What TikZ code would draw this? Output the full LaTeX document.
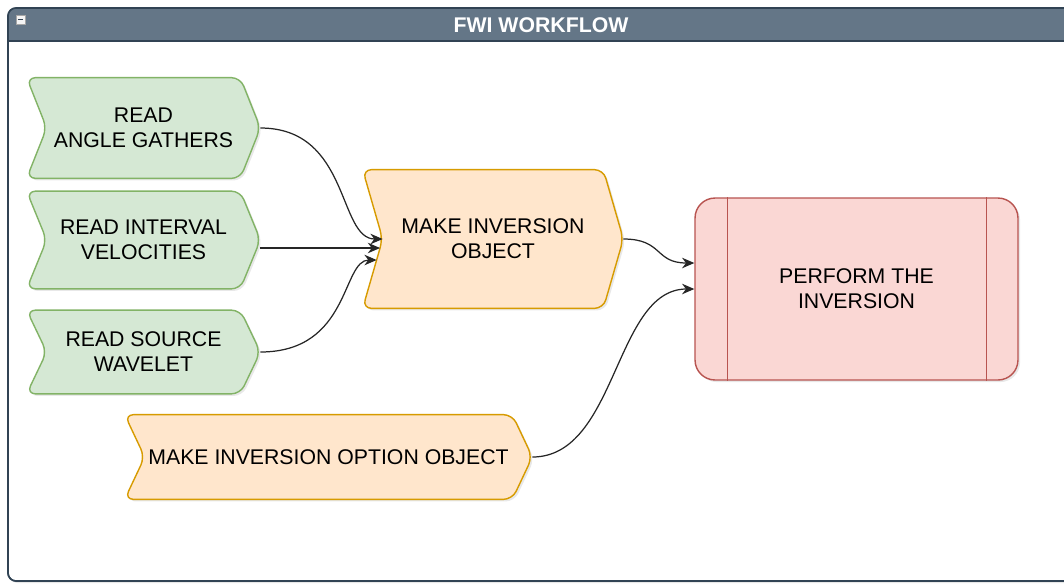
\documentclass[tikz,border=0pt]{standalone}
\usepackage{fontspec}
\setmainfont{Liberation Sans}
\usepackage{tikz}
\usetikzlibrary{arrows.meta, calc, backgrounds, shadows}
\definecolor{GreenFill}{HTML}{D5E8D4}
\definecolor{GreenLine}{HTML}{82B366}
\definecolor{OrangeFill}{HTML}{FFE6CC}
\definecolor{OrangeLine}{HTML}{D79B00}
\definecolor{RedFill}{HTML}{FAD7D4}
\definecolor{RedLine}{HTML}{B85450}
\definecolor{SlateFill}{HTML}{647687}
\definecolor{SlateLine}{HTML}{314354}

% chevron outline behind a text node
\newcommand{\chevpath}[2]{%
  \path[#2] (#1.north west) -- ([xshift=-0.4cm]#1.north east) -- (#1.east)
    -- ([xshift=-0.4cm]#1.south east) -- (#1.south west)
    -- ([xshift=0.4cm]#1.west) -- cycle;}

\begin{document}
\begin{tikzpicture}[
  x=0.02cm, y=-0.02cm,
  font=\fontsize{12.1}{14.2}\selectfont,
  softshadow/.style={drop shadow={opacity=0.18, shadow xshift=1.2pt,
                     shadow yshift=-1.2pt}},
  steptext/.style={rectangle, align=center, inner sep=0pt,
                   minimum width=4.66cm},
  greenstep/.style={fill=GreenFill, draw=GreenLine, line width=0.8pt,
                    rounded corners=5pt, softshadow},
  orangestep/.style={fill=OrangeFill, draw=OrangeLine, line width=0.8pt,
                     rounded corners=5pt, softshadow},
  procbox/.style={rectangle, rounded corners=0.4cm, fill=RedFill,
                  draw=RedLine, line width=0.8pt, align=center,
                  minimum width=6.46cm, minimum height=3.64cm, softshadow},
  conn/.style={-{Stealth[length=7pt, width=6pt]}, line width=0.7pt, black!85},
]
\useasboundingbox (0,0) rectangle (1064,583);

% Title
\node[font=\fontsize{12.1}{14.2}\selectfont\bfseries, text=white] (title)
  at (541,25) {FWI WORKFLOW};

% Read steps
\node[steptext, minimum height=2cm] (ra) at (143.5,128) {READ\\ANGLE GATHERS};
\node[steptext, minimum height=1.94cm] (rv) at (143.5,240) {READ INTERVAL\\VELOCITIES};
\node[steptext, minimum height=1.66cm] (rs) at (143.5,352) {READ SOURCE\\WAVELET};

% Make steps
\node[steptext, minimum width=5.2cm, minimum height=2.76cm] (mk)
  at (493,239) {MAKE INVERSION\\OBJECT};
\node[steptext, minimum width=8.14cm, minimum height=1.68cm] (mo)
  at (328.5,457) {MAKE INVERSION OPTION OBJECT};

% Process
\node[procbox] (pf) at (856.5,289) {PERFORM THE\\INVERSION};
\draw[RedLine, line width=0.8pt] ([xshift=0.66cm]pf.north west) -- ([xshift=0.66cm]pf.south west);
\draw[RedLine, line width=0.8pt] ([xshift=-0.64cm]pf.north east) -- ([xshift=-0.64cm]pf.south east);

\begin{scope}[on background layer]
\clip (0,0) rectangle (1064,583);
% Container
\draw[draw=SlateLine, fill=white, line width=0.9pt, rounded corners=0.16cm, softshadow]
  (8,8) rectangle (1100,581);
\fill[SlateFill] (8,41) [rounded corners=0.16cm] -- (8,8) -- (1100,8)
  [sharp corners] -- (1100,41) -- cycle;
\draw[SlateLine, line width=0.9pt] (8,41) -- (1100,41);
\draw[draw=SlateLine, line width=0.9pt, rounded corners=0.16cm] (8,8) rectangle (1100,581);
\draw[fill=white!92!gray, draw=gray!70] (16,15) rectangle (25,24);
\draw[line width=1pt, SlateLine] (18,19.5) -- (23,19.5);

% Chevrons
\chevpath{ra}{greenstep}
\chevpath{rv}{greenstep}
\chevpath{rs}{greenstep}
\chevpath{mk}{orangestep}
\chevpath{mo}{orangestep}
\end{scope}

% Entry points
\coordinate (mkin1) at ([xshift=0.4cm]mk.west);
\coordinate (mkin2) at ($(mk.west)+(17.4,9)$);
\coordinate (mkin3) at ($(mk.west)+(14,21)$);
\coordinate (pfin1) at ($(pf.west)+(0,-26)$);

% Arrows
\draw[conn] (ra.east) .. controls +(90,0) and +(-45,0) .. (mkin1);
\draw[conn] (rv.east |- mkin2) -- (mkin2);
\draw[conn] (rs.east) .. controls +(90,0) and +(-35,0) .. (mkin3);
\draw[conn] (mk.east) .. controls +(40,0) and +(-40,0) .. (pfin1);
\draw[conn] (mo.east) .. controls +(85,0) and +(-80,0) .. (pf.west);

\end{tikzpicture}
\end{document}
